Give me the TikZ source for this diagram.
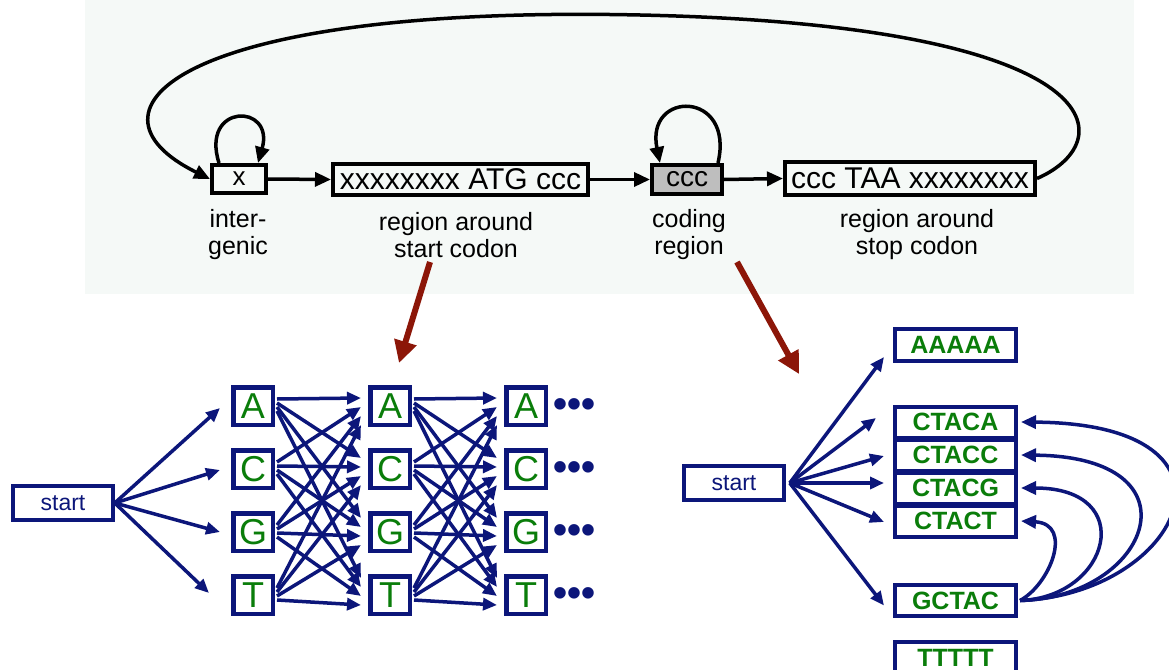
\documentclass[tikz,border=0pt]{standalone}
\usepackage{fontspec}
\setmainfont{Liberation Sans}
\usetikzlibrary{arrows.meta,calc}
\definecolor{navy}{RGB}{12,22,122}
\definecolor{dgreen}{RGB}{10,125,10}
\definecolor{panelbg}{RGB}{245,249,247}
\definecolor{dred}{RGB}{140,22,8}
\definecolor{cgray}{RGB}{190,190,190}
\newcommand{\myfs}[1]{\fontsize{#1}{#1}\selectfont}
\tikzset{
  tbox/.style={draw=black, line width=4pt, inner sep=0pt, font=\myfs{30}},
  tarr/.style={draw=black, line width=3.5pt, -{Triangle[length=16pt,width=14pt]}},
  lab/.style={align=center, inner sep=0pt, font=\fontsize{25}{27}\selectfont, text=black},
  lbox/.style={draw=navy, line width=4.5pt, minimum width=39.5pt, minimum height=37.5pt, inner sep=0pt, text=dgreen, font=\myfs{36}},
  larr/.style={draw=navy, line width=3.5pt, -{Triangle[length=14pt,width=12pt]}},
  sbox/.style={draw=navy, line width=4pt, minimum width=99.5pt, minimum height=34.5pt, inner sep=0pt, text=navy, font=\myfs{23}},
  rbox/.style={draw=navy, line width=4pt, minimum width=121pt, inner sep=0pt, text=dgreen, font=\bfseries\myfs{25}},
  carr/.style={draw=navy, line width=3.5pt, -{Triangle[length=15pt,width=13pt]}},
  redarr/.style={draw=dred, line width=6pt, -{Triangle[length=22pt,width=22pt]}},
  dotsn/.style={inner sep=0pt, text=navy, font=\bfseries\myfs{40}}
}
\begin{document}
\begin{tikzpicture}[x=1pt,y=-1pt]
\useasboundingbox (0,0) rectangle (1169,669);
\fill[white] (0,0) rectangle (1169,669);
\fill[panelbg] (85,0) rectangle (1134,294);

% ---- top HMM ----
\node[tbox, minimum width=54pt, minimum height=28pt, font=\myfs{26}] (xb) at (239,179) {x};
\node[tbox, minimum width=255pt, minimum height=31pt] (ab) at (460.5,179.5) {xxxxxxxx ATG ccc};
\node[tbox, fill=cgray, minimum width=70pt, minimum height=29pt, font=\myfs{28}] (cb) at (687,179.5) {ccc};
\node[tbox, minimum width=250pt, minimum height=33pt] (sb) at (910,178.5) {ccc TAA xxxxxxxx};

\draw[tarr] (xb.east) -- (ab.west);
\draw[tarr] (ab.east) -- (cb.west);
\draw[tarr] (cb.east) -- (sb.west);

\draw[tarr] ($(xb.north)+(-20,0)$) .. controls +(-19,-60) and +(17,-60) .. ($(xb.north)+(19,0)$);
\draw[tarr] ($(cb.north)+(31,0)$) .. controls +(17,-73) and +(-15,-73) .. ($(cb.north)+(-27,0)$);
\draw[tarr] (sb.east) .. controls (1125,140) and (1110,25) .. (640,15) .. controls (180,5) and (70,110) .. (xb.west);

\node[lab] (l1) at (238,235) {inter-\\genic};
\node[lab] (l2) at (456,235) {region around\\start codon};
\node[lab] (l3) at (689,235) {coding\\region};
\node[lab] (l4) at (917,235) {region around\\stop codon};

% ---- red arrows ----
\coordinate (r1s) at (430,262);
\coordinate (r1e) at (399,363);
\coordinate (r2s) at (737,262);
\coordinate (r2e) at (799,374);
\draw[redarr] (r1s) -- (r1e);
\draw[redarr] (r2s) -- (r2e);

% ---- lattice ----
\foreach \c/\x in {1/253,2/390,3/526}{
  \foreach \r/\L/\y in {0/A/406,1/C/469,2/G/532,3/T/595}{
    \node[lbox] (n\c-\r) at (\x,\y) {\L};
  }
}
\foreach \r/\y in {0/406,1/469,2/532,3/595}{
  \node[dotsn] (d\r) at (574,\y+2) {•••};
}
\foreach \s in {1,2}{
  \pgfmathtruncatemacro\t{\s+1}
  \foreach \i in {0,...,3}{
    \foreach \j in {0,...,3}{
      \pgfmathsetmacro\ds{4*\j-7}
      \pgfmathsetmacro\dt{-8+9*\i-3*\j}
      \draw[larr] ($(n\s-\i.east)+(2,\ds)$) -- ($(n\t-\j.west)+(-7,\dt)$);
    }
  }
}
\node[sbox] (st1) at (63,503) {start};
\draw[larr] (st1.east) -- ($(n1-0.west)+(-11,2)$);
\draw[larr] (st1.east) -- ($(n1-1.west)+(-11,1)$);
\draw[larr] (st1.east) -- ($(n1-2.west)+(-11,0)$);
\draw[larr] (st1.east) -- ($(n1-3.west)+(-22,-2)$);

% ---- right side ----
\node[sbox] (st2) at (734,483) {start};
\node[rbox, minimum height=32pt] (aa) at (955.5,345) {AAAAA};
\node[rbox, minimum height=31pt] (ca) at (955.5,422) {CTACA};
\node[rbox, minimum height=31pt] (cc) at (955.5,455) {CTACC\hspace{10pt}};
\node[rbox, minimum height=31pt] (cg) at (955.5,488) {CTACG};
\node[rbox, minimum height=31pt] (ct) at (955.5,521) {CTACT\hspace{10pt}};
\node[rbox, minimum height=31pt] (gc) at (955.5,600.5) {GCTAC};
\node[rbox, minimum height=31pt] (tt) at (955.5,657.5) {TTTTT};

\draw[larr] ($(st2.east)+(4,0)$) -- ($(aa.west)+(-9,12)$);
\draw[larr] ($(st2.east)+(4,0)$) -- ($(ca.west)+(-17,-4)$);
\draw[larr] ($(st2.east)+(4,0)$) -- ($(cc.west)+(-9,1)$);
\draw[larr] ($(st2.east)+(4,0)$) -- ($(cg.west)+(-9,-5)$);
\draw[larr] ($(st2.east)+(4,0)$) -- ($(ct.west)+(-9,1)$);
\draw[larr] ($(st2.east)+(4,0)$) -- ($(gc.west)+(-9,5)$);

\draw[carr] ($(gc.east)+(2,0)$) .. controls +(160,-6) and +(243,2) .. ($(ca.east)+(3,0)$);
\draw[carr] ($(gc.east)+(2,0)$) .. controls +(130,-3) and +(183,2) .. ($(cc.east)+(3,0)$);
\draw[carr] ($(gc.east)+(2,0)$) .. controls +(90,-3) and +(118,0) .. ($(cg.east)+(3,0)$);
\draw[carr] ($(gc.east)+(2,0)$) .. controls +(30,-16) and +(53,3) .. ($(ct.east)+(3,0)$);
\end{tikzpicture}
\end{document}
